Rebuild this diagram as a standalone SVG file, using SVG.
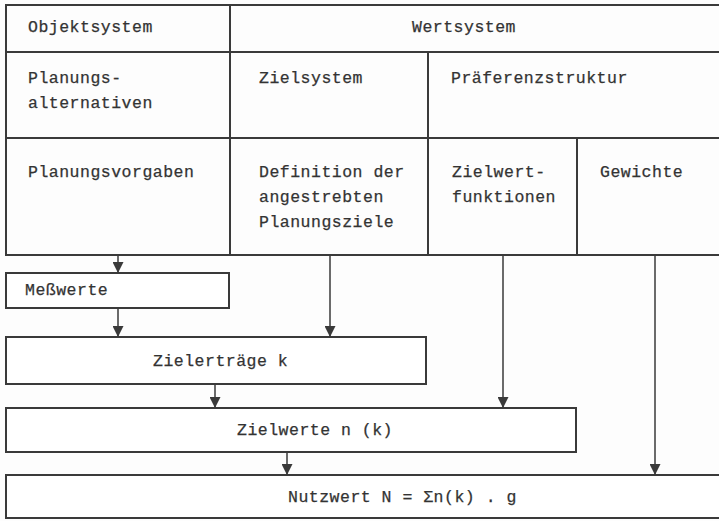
<svg xmlns="http://www.w3.org/2000/svg" width="719" height="521" viewBox="0 0 719 521">
  <style>
    .frame { fill: none; stroke: #3a3a3a; stroke-width: 2; }
    .box { fill: #ffffff; stroke: #3a3a3a; stroke-width: 2; }
    .div { stroke: #3a3a3a; stroke-width: 2; fill: none; }
    .edge { stroke: #3a3a3a; stroke-width: 1.5; fill: none; marker-end: url(#arrow); }
    text { font-family: "Liberation Mono", "DejaVu Sans Mono", monospace; font-size: 16.5px; letter-spacing: 0.5px; fill: #333333; stroke: #333333; stroke-width: 0.25; }
  </style>
  <defs>
    <marker id="arrow" markerUnits="userSpaceOnUse" markerWidth="11" markerHeight="11" viewBox="0 0 10 10" refX="10" refY="5" orient="auto">
      <path d="M0,0 L10,5 L0,10 z" fill="#3a3a3a"/>
    </marker>
  </defs>
  <rect width="719" height="521" fill="#fdfdfd"/>

  <!-- upper table: object system and value system -->
  <g id="table">
    <rect class="frame" x="6" y="5" width="716" height="250"/>
    <line class="div" x1="6" y1="52" x2="722" y2="52"/>
    <line class="div" x1="6" y1="138" x2="722" y2="138"/>
    <line class="div" x1="230" y1="5" x2="230" y2="255"/>
    <line class="div" x1="428" y1="52" x2="428" y2="255"/>
    <line class="div" x1="577" y1="138" x2="577" y2="255"/>
  </g>
  <g id="objektsystem"><text x="28" y="32">Objektsystem</text></g>
  <g id="wertsystem"><text x="412" y="32">Wertsystem</text></g>
  <g id="planungsalternativen">
    <text x="28" y="83">Planungs-</text>
    <text x="28" y="108">alternativen</text>
  </g>
  <g id="zielsystem"><text x="259" y="83">Zielsystem</text></g>
  <g id="praeferenzstruktur"><text x="451" y="83">Präferenzstruktur</text></g>
  <g id="planungsvorgaben"><text x="28" y="177">Planungsvorgaben</text></g>
  <g id="planungsziele">
    <text x="259" y="177">Definition der</text>
    <text x="259" y="202">angestrebten</text>
    <text x="259" y="227">Planungsziele</text>
  </g>
  <g id="zielwertfunktionen">
    <text x="452" y="177">Zielwert-</text>
    <text x="452" y="202">funktionen</text>
  </g>
  <g id="gewichte"><text x="600" y="177">Gewichte</text></g>

  <!-- lower chain of result boxes -->
  <g id="messwerte">
    <rect class="box" x="6" y="273" width="223" height="35"/>
    <text x="25" y="295">Meßwerte</text>
  </g>
  <g id="zielertraege">
    <rect class="box" x="6" y="337" width="420" height="47"/>
    <text x="153" y="366">Zielerträge k</text>
  </g>
  <g id="zielwerte">
    <rect class="box" x="6" y="408" width="570" height="44"/>
    <text x="237" y="435">Zielwerte n (k)</text>
  </g>
  <g id="nutzwert">
    <rect class="box" x="6" y="475" width="716" height="43"/>
    <text x="288" y="502">Nutzwert N = Σn(k) . g</text>
  </g>

  <g id="connectors">
    <line class="edge" x1="118" y1="256" x2="118" y2="273"/>
    <line class="edge" x1="118" y1="309" x2="118" y2="337"/>
    <line class="edge" x1="330" y1="256" x2="330" y2="337"/>
    <line class="edge" x1="215" y1="385" x2="215" y2="408"/>
    <line class="edge" x1="503" y1="256" x2="503" y2="408"/>
    <line class="edge" x1="287" y1="453" x2="287" y2="475"/>
    <line class="edge" x1="655" y1="256" x2="655" y2="475"/>
  </g>
</svg>
